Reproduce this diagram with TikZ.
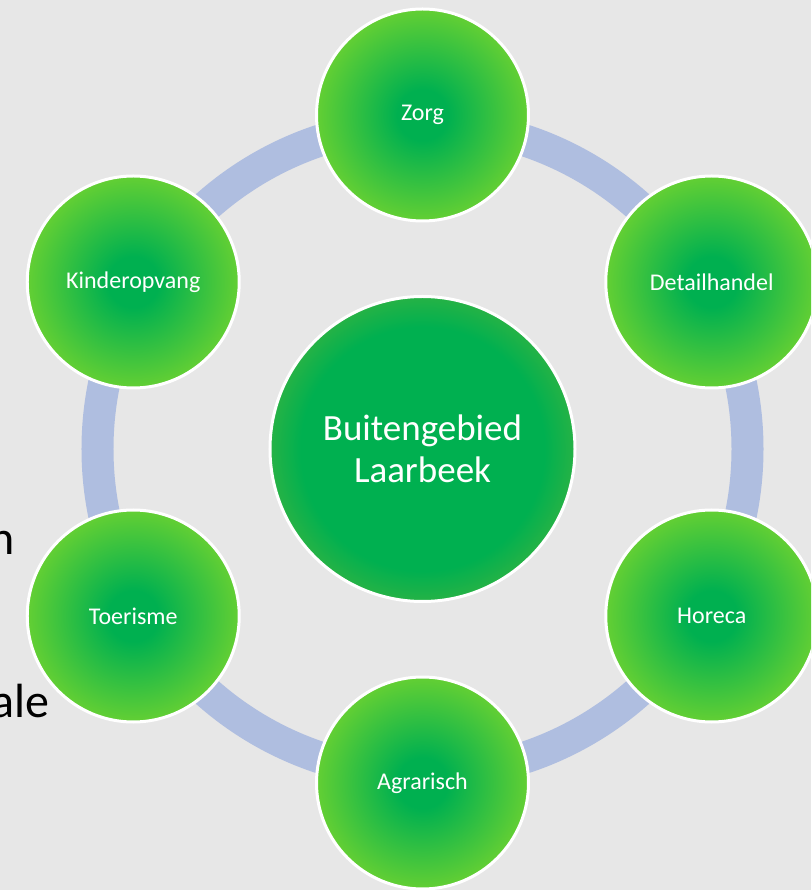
\documentclass[tikz,border=0pt]{standalone}
\usepackage{fontspec}
\setmainfont{Carlito}
\definecolor{achter}{HTML}{E7E7E7}
\definecolor{ringblauw}{HTML}{AFBEE0}
\definecolor{kern}{HTML}{00B050}
\definecolor{randlicht}{HTML}{92DE26}
\definecolor{randdonker}{HTML}{88B82A}
\pgfdeclareradialshading{takshade}{\pgfpoint{0bp}{0bp}}{color(0bp)=(kern); color(6bp)=(kern); color(34bp)=(randlicht); color(50bp)=(randlicht)}
\pgfdeclareradialshading{hubshade}{\pgfpoint{0bp}{0bp}}{color(0bp)=(kern); color(20bp)=(kern); color(38bp)=(randdonker); color(50bp)=(randdonker)}
\tikzset{
  tak/.style={circle, minimum size=212pt, inner sep=0pt, shading=takshade,
    draw=white, line width=3pt, text=white, font=\fontsize{24}{28}\selectfont},
  hub/.style={circle, minimum size=305pt, inner sep=0pt, shading=hubshade,
    draw=white, line width=3pt, text=white, align=center,
    font=\fontsize{37}{42}\selectfont},
  restwoord/.style={anchor=base east, inner sep=0pt, text=black,
    font=\fontsize{48}{56}\selectfont}
}
\begin{document}
\begin{tikzpicture}[x=1pt, y=1pt]
        \useasboundingbox (-422.5,-441) rectangle (388.5,449);
        \clip (-422.5,-441) rectangle (388.5,449);
        \fill[achter] (-422.5,-441) rectangle (388.5,449);
        \coordinate (mid) at (0,0);
        % tekst van de dia erachter
        \node[restwoord] (w1) at (-407.5,-106) {n};
        \node[restwoord] (w2) at (-372.5,-268) {ale};
        \draw[ringblauw, line width=32pt] (mid) circle (325);
        \node[hub] (hub) at (mid) {Buitengebied\\Laarbeek};
        \foreach \lbl [count = \i] in {Zorg,Detailhandel,Horeca,Agrarisch,Toerisme,Kinderopvang}{
          \node[tak] (tak\i) at ({150-60*\i}:334) {\lbl};
        }
      \end{tikzpicture}
\end{document}
